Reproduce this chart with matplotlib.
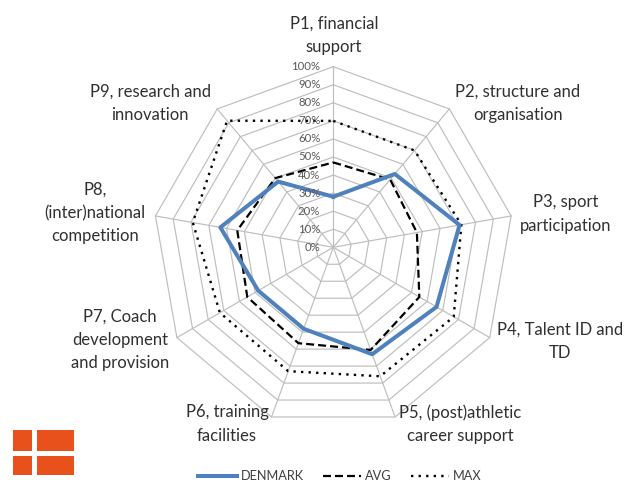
import numpy as np
from matplotlib import pyplot as plt
from matplotlib.patches import Rectangle

categories = ["P1, financial\nsupport", "P2, structure and\norganisation", "P3, sport\nparticipation",
              "P4, Talent ID and\nTD", "P5, (post)athletic\ncareer support", "P6, training\nfacilities",
              "P7, Coach\ndevelopment\nand provision", "P8,\n(inter)national\ncompetition",
              "P9, research and\ninnovation"]
denmark = [28, 53, 71, 66, 63, 48, 48, 63.5, 47.5]
avg = [47, 49, 47, 55, 60.5, 56.5, 55, 54, 50]
maxi = [70, 70, 72, 77, 76, 73, 72.5, 79, 91.5]
ticks = [0, 10, 20, 30, 40, 50, 60, 70, 80, 90, 100]

W, H = 637, 487
# label centres in image pixels
label_xy = [(334, 35), (518, 103), (566, 214), (560, 341), (460, 424), (227, 424), (120, 340), (95, 213), (150, 103)]

plt.rcParams['font.family'] = ['Lato', 'DejaVu Sans']

fig = plt.figure(figsize=(W / 100, H / 100), dpi=100)
cx, cy, rad = 333.3, 247.3, 180.6
ax = fig.add_axes([(cx - rad) / W, (H - cy - rad) / H, 2 * rad / W, 2 * rad / H], projection='polar')
ax.set_theta_zero_location('N')
ax.set_theta_direction(-1)
ax.set_ylim(0, 100)
ax.set_axis_off()

angles = np.arange(len(categories)) * 2 * np.pi / len(categories)


def closed(vals):
    return np.r_[angles, angles[0]], np.r_[vals, vals[0]]


grid_c = '#BEBEBE'
for t in ticks[1:]:
    a, r = closed([t] * len(angles))
    ax.plot(a, r, color=grid_c, lw=0.85, zorder=1, clip_on=False)
for a in angles:
    ax.plot([a, a], [0, 100], color=grid_c, lw=0.85, zorder=1, clip_on=False)

for t in ticks:
    ax.annotate(f"{t}%", xy=(0, t), xytext=(-13, 0), textcoords='offset pixels', ha='right', va='center',
                fontsize=8.2, color='#595959', zorder=5, annotation_clip=False)

a, r = closed(maxi)
ax.plot(a, r, color='black', lw=1.7, ls=(0, (1, 2.2)), zorder=2, label='MAX', clip_on=False)
a, r = closed(avg)
ax.plot(a, r, color='black', lw=1.6, ls=(0, (3.6, 1.8)), zorder=3, label='AVG', clip_on=False)
a, r = closed(denmark)
ax.plot(a, r, color='#4F81BD', lw=2.9, zorder=4, label='DENMARK', clip_on=False)

for name, (x, y) in zip(categories, label_xy):
    fig.text(x / W, 1 - y / H, name, ha='center', va='center', fontsize=12, color='#303030',
             linespacing=1.55, multialignment='center')

handles, labels = ax.get_legend_handles_labels()
order = [2, 1, 0]
fig.legend([handles[i] for i in order], [labels[i] for i in order], ncol=3, frameon=False,
           loc='center', bbox_to_anchor=(340 / W, 1 - 476 / H), fontsize=9.2, handlelength=3.0,
           handletextpad=0.3, columnspacing=1.5, labelcolor='#404040', borderpad=0)

# flag in the corner
flag_c = '#E8511B'
for x0, x1, y0, y1 in [(12.7, 31.7, 430, 450.7), (37.3, 74, 430, 450.7), (12.7, 31.7, 456, 475), (37.3, 74, 456, 475)]:
    fig.add_artist(Rectangle((x0 / W, 1 - y1 / H), (x1 - x0) / W, (y1 - y0) / H, transform=fig.transFigure,
                             color=flag_c, lw=0))

fig.savefig("out.png", dpi=100)
